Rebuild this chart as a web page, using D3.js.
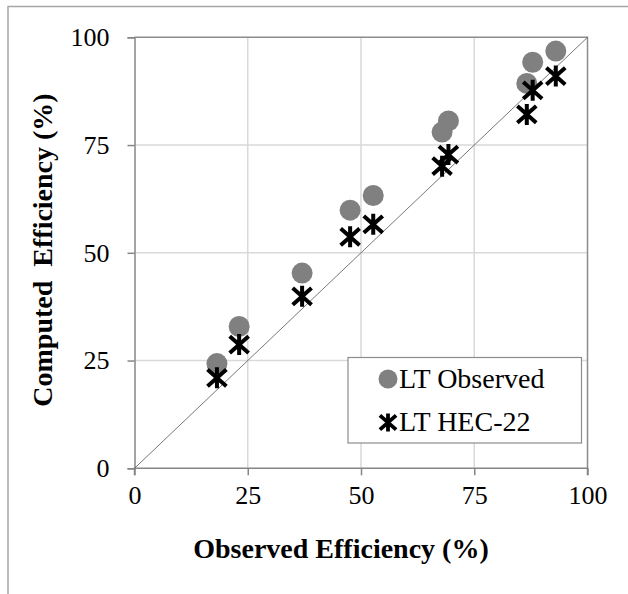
<!DOCTYPE html>
<html>
<head>
<meta charset="utf-8">
<script src="https://cdn.jsdelivr.net/npm/d3@7"></script>
<style>
  html, body { margin: 0; padding: 0; background: #fff; }
  svg, svg text { font-family: "Liberation Serif", "Times New Roman", "DejaVu Serif", serif !important; }
</style>
</head>
<body>
<svg id="chart" width="628" height="594"></svg>
<script>
// Observed efficiency (x) and the two computed series (y), in percent
const observedEff = [18.2, 23.1, 37.0, 47.6, 52.7, 67.9, 69.3, 86.6, 87.9, 93.0];
const ltObserved  = [24.3, 32.9, 45.3, 59.9, 63.3, 78.0, 80.6, 89.3, 94.2, 96.8];
const ltHec22     = [21.0, 28.7, 39.9, 53.7, 56.6, 70.1, 72.8, 82.1, 87.7, 91.0];
const tickValues  = [0, 25, 50, 75, 100];
const seriesNames = ["LT Observed", "LT HEC-22"];

const serif = "'Liberation Serif', 'Times New Roman', serif";
const svg = d3.select("#chart");
const plot = { left: 134.5, right: 587.5, top: 37.3, bottom: 468.3 };

const x = d3.scaleLinear().domain([0, 100]).range([plot.left, plot.right]);
const y = d3.scaleLinear().domain([0, 100]).range([plot.bottom, plot.top]);

// outer chart frame (top and left edges)
svg.append("path")
  .attr("d", "M8,594 L8,6.5 L628,6.5")
  .attr("fill", "none").attr("stroke", "#a6a6a6").attr("stroke-width", 1.5);

// gridlines
const grid = svg.append("g");
grid.selectAll("line.v").data(tickValues.slice(1, -1)).join("line")
  .attr("x1", d => x(d)).attr("x2", d => x(d))
  .attr("y1", plot.top).attr("y2", plot.bottom)
  .attr("stroke", "#d9d9d9").attr("stroke-width", 1.5);
grid.selectAll("line.h").data(tickValues.slice(1, -1)).join("line")
  .attr("y1", d => y(d)).attr("y2", d => y(d))
  .attr("x1", plot.left).attr("x2", plot.right)
  .attr("stroke", "#d9d9d9").attr("stroke-width", 1.5);

// plot area border on top and right
svg.append("path")
  .attr("d", `M${plot.left},${plot.top} L${plot.right},${plot.top} L${plot.right},${plot.bottom}`)
  .attr("fill", "none").attr("stroke", "#8c8c8c").attr("stroke-width", 1.5);

// axes
const axisColor = "#868686";
const xAxis = svg.append("g")
  .attr("transform", `translate(0,${plot.bottom})`)
  .call(d3.axisBottom(x).tickValues(tickValues).tickSize(7).tickPadding(10));
const yAxis = svg.append("g")
  .attr("transform", `translate(${plot.left},0)`)
  .call(d3.axisLeft(y).tickValues(tickValues).tickSize(7).tickPadding(18));
[xAxis, yAxis].forEach(a => {
  a.attr("font-family", serif).attr("font-size", 26);
  a.select(".domain").attr("stroke", axisColor).attr("stroke-width", 1.5);
  a.selectAll(".tick line").attr("stroke", axisColor).attr("stroke-width", 1.5);
  a.selectAll(".tick text").attr("fill", "#000");
});
xAxis.select(".domain").attr("d", `M${plot.left},7V0H${plot.right}V7`);

// 1:1 reference line
svg.append("line")
  .attr("x1", x(0)).attr("y1", y(0)).attr("x2", x(100)).attr("y2", y(100))
  .attr("stroke", "#555").attr("stroke-width", 0.8);

// asterisk marker (X with a vertical bar)
const star = s => `M${-0.9*s},${-0.8*s}L${0.9*s},${0.8*s}M${-0.9*s},${0.8*s}L${0.9*s},${-0.8*s}M0,${-s}L0,${s}`;

// LT Observed: grey circles
svg.append("g").selectAll("circle").data(observedEff).join("circle")
  .attr("cx", d => x(d))
  .attr("cy", (d, i) => y(ltObserved[i]))
  .attr("r", 10.5)
  .attr("fill", "#808080");

// LT HEC-22: black asterisks
svg.append("g").selectAll("path").data(observedEff).join("path")
  .attr("transform", (d, i) => `translate(${x(d)},${y(ltHec22[i])})`)
  .attr("d", star(10.5))
  .attr("fill", "none").attr("stroke", "#000").attr("stroke-width", 4);

// axis titles
svg.append("text")
  .attr("x", 341).attr("y", 558)
  .attr("text-anchor", "middle")
  .attr("font-family", serif).attr("font-size", 28).attr("font-weight", "bold")
  .text("Observed Efficiency (%)");
svg.append("text")
  .attr("transform", "translate(52,250) rotate(-90)")
  .attr("text-anchor", "middle")
  .attr("xml:space", "preserve")
  .style("white-space", "pre")
  .attr("font-family", serif).attr("font-size", 28).attr("font-weight", "bold")
  .text("Computed  Efficiency (%)");

// legend
const lg = svg.append("g");
lg.append("rect")
  .attr("x", 348).attr("y", 357.5).attr("width", 233.5).attr("height", 85.5)
  .attr("fill", "#fff").attr("stroke", "#8c8c8c").attr("stroke-width", 1.2);
lg.append("circle").attr("cx", 388).attr("cy", 379).attr("r", 9.5).attr("fill", "#808080");
lg.append("path").attr("transform", "translate(388,422.5)").attr("d", star(9))
  .attr("fill", "none").attr("stroke", "#000").attr("stroke-width", 3.8);
lg.selectAll("text").data(seriesNames).join("text")
  .attr("x", 399).attr("y", (d, i) => 387.5 + i * 43.5)
  .attr("font-family", serif).attr("font-size", 28)
  .text(d => d);
</script>
</body>
</html>
